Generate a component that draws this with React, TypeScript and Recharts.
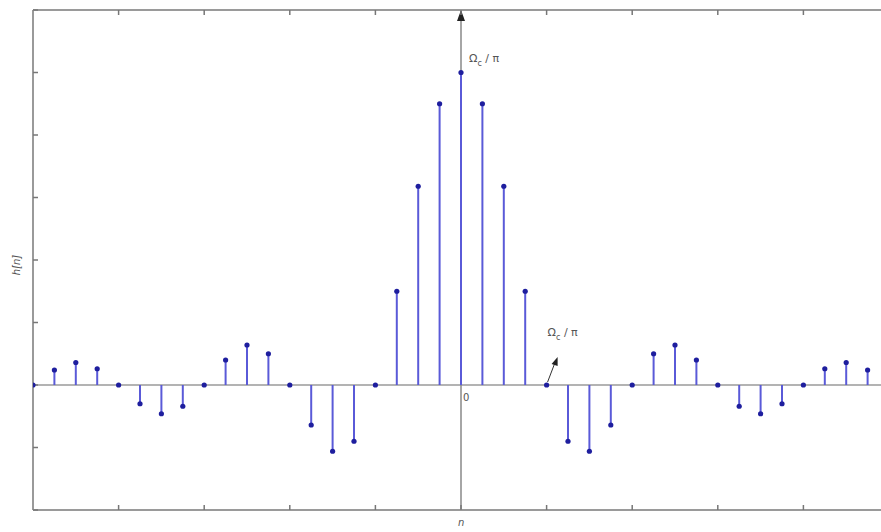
import React from 'react';
import {
  ComposedChart,
  XAxis,
  YAxis,
  Scatter,
  ReferenceLine,
  ReferenceDot,
} from 'recharts';

// Sample index n and impulse response h[n] of the ideal low-pass filter
const nValues = [
  -20, -19, -18, -17, -16, -15, -14, -13, -12, -11, -10, -9, -8, -7, -6, -5, -4, -3, -2, -1,
  0, 1, 2, 3, 4, 5, 6, 7, 8, 9, 10, 11, 12, 13, 14, 15, 16, 17, 18, 19, 20,
];
const hValues = [
  0, 0.012, 0.018, 0.013, 0, -0.015, -0.023, -0.017, 0, 0.020, 0.032, 0.025, 0, -0.032, -0.053,
  -0.045, 0, 0.075, 0.159, 0.225, 0.25, 0.225, 0.159, 0.075, 0, -0.045, -0.053, -0.032, 0,
  0.025, 0.032, 0.020, 0, -0.017, -0.023, -0.015, 0, 0.013, 0.018, 0.012, 0,
];
const xTicks = [-20, -16, -12, -8, -4, 0, 4, 8, 12, 16, 20];
const yTicks = [-0.1, -0.05, 0, 0.05, 0.1, 0.15, 0.2, 0.25, 0.3];

const data = nValues.map((n, i) => ({ n, h: hValues[i] }));

const FRAME = '#9a9a9a';
const TICK = '#777777';
const STEM = '#5a5ad8';
const DOT = '#1e1e9e';
const TEXT = '#555555';
const FONT = 'DejaVu Sans, sans-serif';

// tick marks only, no tick labels
const NoLabel = () => <g />;

const OmegaLabel = ({ x, y }: { x: number; y: number }) => (
  <text x={x} y={y} fontFamily={FONT} fontSize={11} fill={TEXT}>
    Ω
    <tspan dy={4} fontSize={8}>c</tspan>
    <tspan dy={-4}> / π</tspan>
  </text>
);

const frameAxis = {
  allowDataOverflow: true,
  mirror: true,
  tick: NoLabel,
  tickSize: 5,
  axisLine: { stroke: FRAME, strokeWidth: 2 },
  tickLine: { stroke: TICK, strokeWidth: 1.5 },
};

export default function App() {
  return (
    <div
      style={{
        position: 'absolute',
        left: 0,
        top: 0,
        width: 881,
        height: 532,
        overflow: 'hidden',
        background: '#fff',
      }}
    >
      <ComposedChart
        width={900}
        height={532}
        data={data}
        margin={{ top: 10, right: 11, bottom: 22, left: 33 }}
      >
        <XAxis
          xAxisId="bottom"
          dataKey="n"
          type="number"
          domain={[-20, 20]}
          ticks={xTicks}
          orientation="bottom"
          {...frameAxis}
        />
        <XAxis
          xAxisId="top"
          dataKey="n"
          type="number"
          domain={[-20, 20]}
          ticks={xTicks}
          orientation="top"
          {...frameAxis}
        />
        <YAxis
          yAxisId="left"
          dataKey="h"
          type="number"
          domain={[-0.1, 0.3]}
          ticks={yTicks}
          orientation="left"
          {...frameAxis}
        />
        <YAxis
          yAxisId="right"
          dataKey="h"
          type="number"
          domain={[-0.1, 0.3]}
          ticks={yTicks}
          orientation="right"
          {...frameAxis}
        />

        {/* horizontal zero axis */}
        <ReferenceLine
          xAxisId="bottom"
          yAxisId="left"
          y={0}
          stroke={FRAME}
          strokeWidth={1.5}
        />
        {/* vertical axis at n = 0 with an arrowhead at the top */}
        <ReferenceLine
          xAxisId="bottom"
          yAxisId="left"
          x={0}
          stroke="#888"
          strokeWidth={1.5}
          label={(props: any) => {
            const vb = props.viewBox || {};
            const x = vb.x;
            const y = vb.y;
            return (
              <polygon
                points={`${x},${y} ${x - 4},${y + 11} ${x + 4},${y + 11}`}
                fill="#222"
              />
            );
          }}
        />

        {/* stems */}
        {data.map((d) => (
          <ReferenceLine
            key={`stem-${d.n}`}
            xAxisId="bottom"
            yAxisId="left"
            segment={[
              { x: d.n, y: 0 },
              { x: d.n, y: d.h },
            ]}
            stroke={STEM}
            strokeWidth={2}
          />
        ))}

        <Scatter
          xAxisId="bottom"
          yAxisId="left"
          dataKey="h"
          fill={DOT}
          isAnimationActive={false}
          shape={(p: any) => <circle cx={p.cx} cy={p.cy} r={2.6} fill={DOT} />}
        />

        {/* annotations */}
        <ReferenceDot
          xAxisId="bottom"
          yAxisId="left"
          x={0}
          y={0.25}
          r={0}
          fill="none"
          stroke="none"
          label={(props: any) => {
            const vb = props.viewBox || {};
            return <OmegaLabel x={vb.x + 8} y={vb.y - 11} />;
          }}
        />
        <ReferenceDot
          xAxisId="bottom"
          yAxisId="left"
          x={4}
          y={0}
          r={0}
          fill="none"
          stroke="none"
          label={(props: any) => {
            const vb = props.viewBox || {};
            const x = vb.x;
            const y = vb.y;
            return (
              <g>
                <line x1={x + 1} y1={y - 3} x2={x + 9} y2={y - 24} stroke="#333" strokeWidth={1} />
                <polygon
                  points={`${x + 11},${y - 28} ${x + 5},${y - 21} ${x + 11},${y - 19}`}
                  fill="#222"
                />
                <OmegaLabel x={x + 1} y={y - 49} />
              </g>
            );
          }}
        />
        <ReferenceDot
          xAxisId="bottom"
          yAxisId="left"
          x={0}
          y={0}
          r={0}
          fill="none"
          stroke="none"
          label={(props: any) => {
            const vb = props.viewBox || {};
            return (
              <text x={vb.x + 2} y={vb.y + 16} fontFamily={FONT} fontSize={10} fill={TEXT}>
                0
              </text>
            );
          }}
        />
        <ReferenceDot
          xAxisId="bottom"
          yAxisId="left"
          x={0}
          y={-0.1}
          r={0}
          fill="none"
          stroke="none"
          label={(props: any) => {
            const vb = props.viewBox || {};
            return (
              <text
                x={vb.x - 3}
                y={vb.y + 16}
                fontFamily={FONT}
                fontSize={10}
                fontStyle="italic"
                fill={TEXT}
              >
                n
              </text>
            );
          }}
        />
        <ReferenceDot
          xAxisId="bottom"
          yAxisId="left"
          x={-20}
          y={0.1}
          r={0}
          fill="none"
          stroke="none"
          label={(props: any) => {
            const vb = props.viewBox || {};
            const x = vb.x - 13;
            const y = vb.y + 5;
            return (
              <text
                x={x}
                y={y}
                transform={`rotate(-90 ${x} ${y})`}
                textAnchor="middle"
                fontFamily={FONT}
                fontSize={10}
                fontStyle="italic"
                fill={TEXT}
              >
                h[n]
              </text>
            );
          }}
        />
      </ComposedChart>
    </div>
  );
}
